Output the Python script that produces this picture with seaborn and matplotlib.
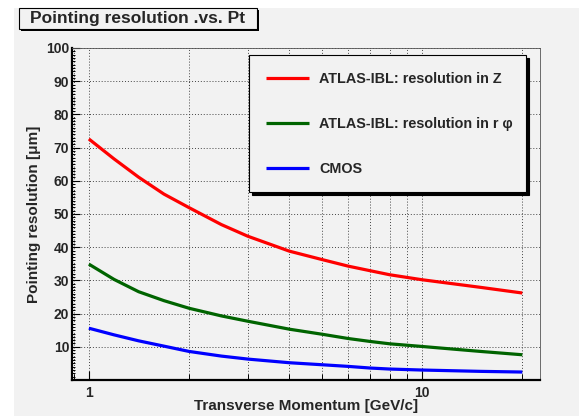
import matplotlib
matplotlib.use("Agg")
import matplotlib.pyplot as plt
import pandas as pd
import seaborn as sns
from matplotlib.patches import Rectangle
from matplotlib.ticker import (FixedLocator, MultipleLocator, NullFormatter,
                               FuncFormatter, LogLocator)

# Transverse momentum sampling points [GeV/c]
pt_values = [1, 1.19, 1.41, 1.68, 2, 2.5, 3, 4, 5, 6, 7, 8, 10, 15, 20]

# Pointing resolution [um] for each configuration
res_z = [72.6, 66.6, 61.1, 56.0, 51.9, 46.8, 43.3, 38.8, 36.3, 34.3, 32.9, 31.7, 30.2, 27.9, 26.2]
res_rphi = [34.9, 30.3, 26.6, 23.9, 21.6, 19.3, 17.7, 15.3, 13.8, 12.5, 11.6, 10.9, 10.1, 8.6, 7.6]
res_cmos = [15.6, 13.6, 11.8, 10.2, 8.6, 7.2, 6.3, 5.2, 4.6, 4.1, 3.6, 3.3, 3.0, 2.6, 2.4]

series_labels = ["ATLAS-IBL: resolution in Z",
                 "ATLAS-IBL: resolution in r φ",
                 "CMOS"]
series_colors = ["#ff0000", "#006400", "#0000ff"]

y_ticks = [10, 20, 30, 40, 50, 60, 70, 80, 90, 100]
x_ticks = [1, 10]

title_text = "Pointing resolution .vs. Pt"
x_title = "Transverse Momentum [GeV/c]"
y_title = "Pointing resolution [μm]"

df = pd.concat([
    pd.DataFrame({"pt": pt_values, "res": vals, "series": lab})
    for vals, lab in zip([res_z, res_rphi, res_cmos], series_labels)
], ignore_index=True)

sns.set_theme(style="ticks")
plt.rcParams["font.family"] = ["Liberation Sans", "DejaVu Sans"]
plt.rcParams["font.weight"] = "bold"

W, H = 579, 416
BG = "#f2f2f2"
fig = plt.figure(figsize=(W / 100, H / 100), dpi=100)
fig.patch.set_facecolor("white")


def fbox(x0, y0, w, h):
    """Pixel box (top-left origin) -> figure-fraction rectangle."""
    return (x0 / W, 1 - (y0 + h) / H), w / W, h / H


# canvas background
xy, w, h = fbox(14, 8, W - 14, H - 8)
fig.add_artist(Rectangle(xy, w, h, transform=fig.transFigure,
                         facecolor=BG, edgecolor="none", zorder=-2))

# title box with shadow
xy, w, h = fbox(21, 10, 238, 21)
fig.add_artist(Rectangle(xy, w, h, transform=fig.transFigure,
                         facecolor="black", edgecolor="none", zorder=3))
xy, w, h = fbox(19, 8, 238, 21)
fig.add_artist(Rectangle(xy, w, h, transform=fig.transFigure,
                         facecolor=BG, edgecolor="black", linewidth=0.8, zorder=4))
fig.text((19 + 119) / W, 1 - 18.5 / H, title_text, ha="center", va="center",
         fontsize=12.5, fontweight="bold", zorder=5)

ax = fig.add_axes([72 / W, 1 - 380 / H, 468 / W, 332 / H])
ax.set_facecolor(BG)

sns.lineplot(data=df, x="pt", y="res", hue="series", hue_order=series_labels,
             palette=series_colors, linewidth=2.3, estimator=None, sort=True,
             solid_capstyle="butt", solid_joinstyle="round", ax=ax)

ax.set_xscale("log")
ax.set_xlim(0.89, 22.6)
ax.set_ylim(0, 100)

ax.xaxis.set_major_locator(FixedLocator(x_ticks))
ax.xaxis.set_major_formatter(FuncFormatter(lambda v, p: f"{v:g}"))
ax.xaxis.set_minor_locator(LogLocator(base=10, subs=range(2, 10)))
ax.xaxis.set_minor_formatter(NullFormatter())
ax.yaxis.set_major_locator(FixedLocator(y_ticks))
ax.yaxis.set_minor_locator(MultipleLocator(1))

ax.tick_params(axis="both", which="both", direction="in", top=False, right=False,
               color="black", labelsize=10)
ax.tick_params(axis="y", which="major", length=6, width=0.8, pad=2)
ax.tick_params(axis="y", which="minor", length=2.3, width=0.7)
ax.tick_params(axis="x", which="major", length=6.5, width=0.8, pad=4)
ax.tick_params(axis="x", which="minor", length=4, width=0.7)
for lab in ax.get_xticklabels() + ax.get_yticklabels():
    lab.set_fontweight("bold")

grid_style = dict(color="#444444", linewidth=0.7, linestyle=(0, (1, 2)))
ax.grid(True, which="major", axis="both", **grid_style)
ax.grid(True, which="minor", axis="x", **grid_style)
ax.set_axisbelow(True)

for side in ("left", "bottom"):
    ax.spines[side].set_linewidth(1.6)
    ax.spines[side].set_color("black")
for side in ("top", "right"):
    ax.spines[side].set_linewidth(0.6)
    ax.spines[side].set_color("#555555")

ax.set_xlabel(x_title, fontsize=11, fontweight="bold")
ax.xaxis.set_label_coords(0.5, (380 - 406) / 332)
ax.xaxis.label.set_va("center")
ax.set_ylabel(y_title, fontsize=11, fontweight="bold")
ax.yaxis.set_label_coords((34 - 72) / 468, 0.5)
ax.yaxis.label.set_va("center")

handles, labels = ax.get_legend_handles_labels()
xy, w, h = fbox(249, 55, 277, 137)
leg = ax.legend(handles, labels, loc="upper left",
                bbox_to_anchor=(xy[0], xy[1], w, h), bbox_transform=fig.transFigure,
                mode="expand", borderaxespad=0, fontsize=10.4,
                handlelength=3.0, handletextpad=0.7, borderpad=1.15,
                labelspacing=2.15, frameon=True, fancybox=False,
                shadow={"color": "black", "alpha": 1})
frame = leg.get_frame()
frame.set_facecolor(BG)
frame.set_edgecolor("black")
frame.set_linewidth(0.8)
frame.set_alpha(1)
for line in leg.get_lines():
    line.set_linewidth(2.3)
for t in leg.get_texts():
    t.set_fontweight("bold")

fig.savefig("out.png", dpi=100, facecolor=fig.get_facecolor())
